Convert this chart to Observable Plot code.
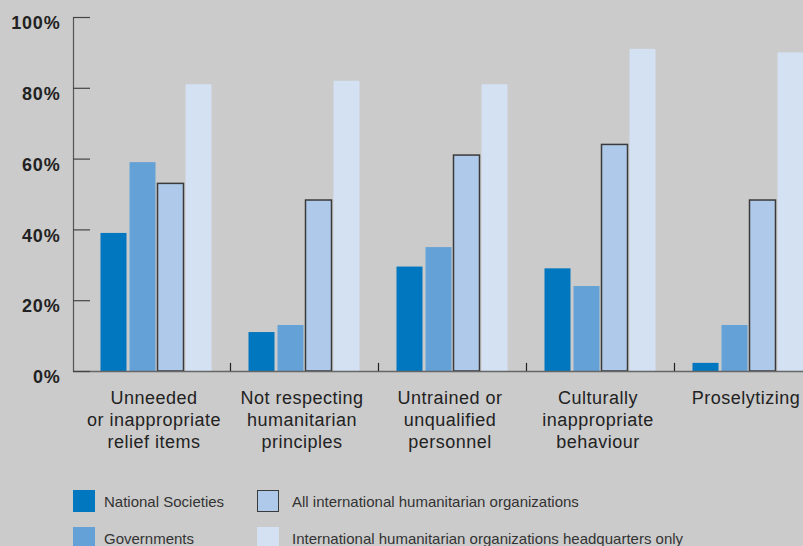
<!DOCTYPE html>
<html><head><meta charset="utf-8">
<script src="https://cdn.jsdelivr.net/npm/d3@7"></script>
<script src="https://cdn.jsdelivr.net/npm/@observablehq/plot@0.6"></script>
<style>
html,body{margin:0;padding:0;background:#cbcbcb;width:803px;height:546px;overflow:hidden;font-family:"Liberation Sans",Arial,Helvetica,sans-serif;}
#wrap{position:relative;width:803px;height:546px;}
#chart{position:absolute;left:0;top:0;}
.sw{position:absolute;width:22px;height:22px;box-sizing:border-box;}
.lt{position:absolute;font-size:15px;color:#333;line-height:22px;white-space:nowrap;}
</style></head><body>
<div id="wrap"><div id="chart"></div><div id="legend"></div></div>
<script>
const categories = ["Unneeded\nor inappropriate\nrelief items", "Not respecting\nhumanitarian\nprinciples", "Untrained or\nunqualified\npersonnel", "Culturally\ninappropriate\nbehaviour", "Proselytizing"];
const series = ["National Societies", "Governments", "All international humanitarian organizations", "International humanitarian organizations headquarters only"];
const nationalSocieties = [39, 11, 29.5, 29, 2.3];
const governments = [59, 13, 35, 24, 13];
const allInternational = [53, 48.3, 61, 64, 48.3];
const hqOnly = [81, 82, 81, 91, 90];
const yTicks = [0, 20, 40, 60, 80, 100];

const values = [nationalSocieties, governments, allInternational, hqOnly];
const colors = ["#0077be", "#64a1d6", "#aec9ea", "#d4e1f3"];
const strokes = [null, null, "#3a3a3a", null];
const insets = [[18.5, 103.5], [47.5, 74.5], [75.5, 46.5], [103.5, 18.5]];

const rows = [];
values.forEach((arr, s) => arr.forEach((v, i) => rows.push({cat: categories[i], series: series[s], s, value: v})));

const barMarks = series.map((name, s) => Plot.barY(rows.filter(d => d.s === s), {
  x: "cat", y: "value",
  fill: colors[s],
  stroke: strokes[s] || "none",
  strokeWidth: 1.5,
  insetLeft: insets[s][0], insetRight: insets[s][1]
}));

const chart = Plot.plot({
  width: 803,
  height: 470,
  marginLeft: 73,
  marginRight: 0,
  marginTop: 17,
  marginBottom: 99,
  style: {background: "transparent", fontFamily: "'Liberation Sans', Arial, Helvetica, sans-serif", overflow: "visible"},
  x: {domain: categories, range: [81.5, 821.5], padding: 0},
  y: {domain: [0, 100]},
  marks: [
    ...barMarks,
    Plot.ruleY([0], {stroke: "#666", strokeWidth: 1.5}),
    Plot.frame({anchor: "left", stroke: "#555", strokeWidth: 1.2}),
    Plot.ruleX(categories.slice(1), {x: d => d, y1: 0, y2: 2.3, dx: -74, stroke: "#222", strokeWidth: 1.2}),
    Plot.axisY({ticks: yTicks, tickSize: -17, tickFormat: () => "", stroke: "#444", strokeWidth: 1.2, label: null}),
    Plot.axisY({ticks: yTicks, tickSize: 0, tickPadding: 13, dy: 6, tickFormat: d => d + "%", fontSize: 18, fontWeight: "bold", fill: "#222", label: null}),
    Plot.axisX({tickSize: 0, tickPadding: 17, dx: -2.5, fontSize: 18, lineHeight: 1.22, fill: "#222", label: null})
  ]
});
chart.querySelectorAll("g[aria-label='y-axis tick label'] text").forEach(t => t.setAttribute("letter-spacing", "0.8"));
chart.querySelectorAll("g[aria-label='x-axis tick label'] text").forEach(t => t.setAttribute("letter-spacing", "0.5"));
document.getElementById("chart").appendChild(chart);

const legend = document.getElementById("legend");
const legPos = [[73, 490, 104], [73, 527, 104], [257, 490, 292], [257, 527, 292]];
series.forEach((name, s) => {
  const [x, y, tx] = legPos[s];
  const sw = document.createElement("div");
  sw.className = "sw";
  sw.style.left = x + "px"; sw.style.top = y + "px";
  sw.style.background = colors[s];
  if (strokes[s]) sw.style.border = "1.5px solid " + strokes[s];
  legend.appendChild(sw);
  const t = document.createElement("div");
  t.className = "lt";
  t.style.left = tx + "px"; t.style.top = (y + 1) + "px";
  t.textContent = name;
  legend.appendChild(t);
});
</script>
</body></html>
